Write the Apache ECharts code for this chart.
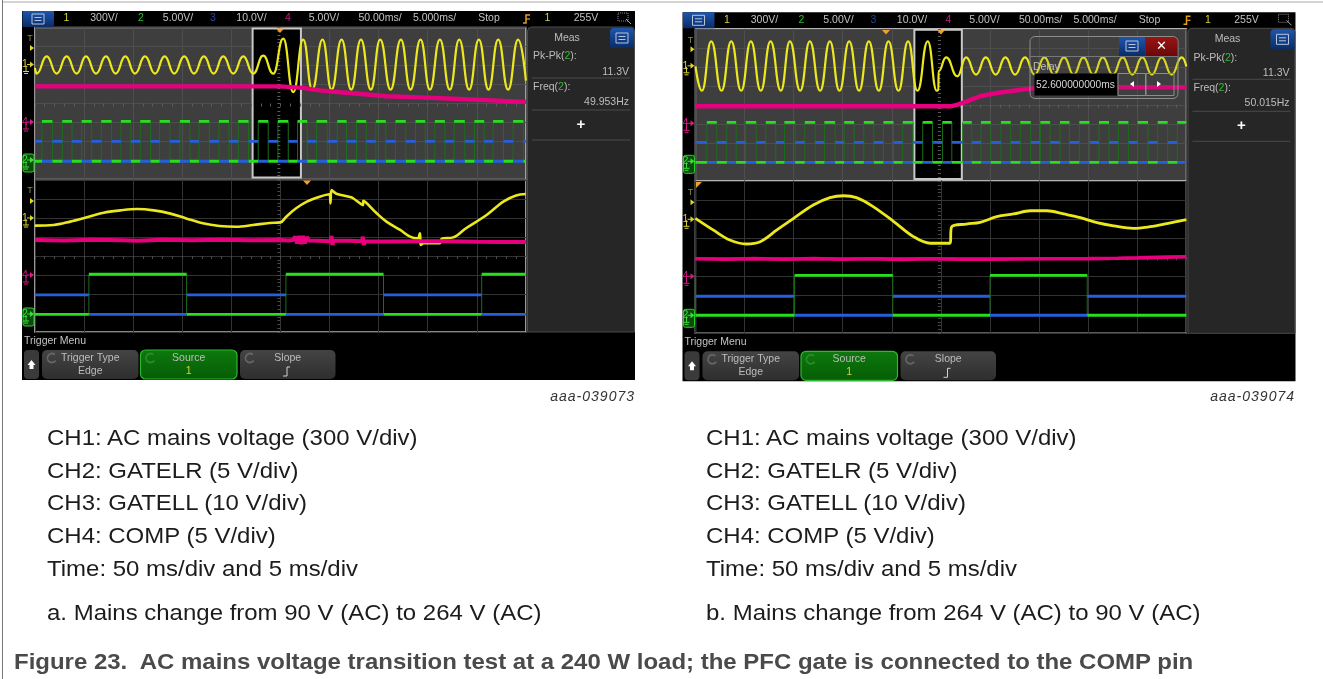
<!DOCTYPE html>
<html>
<head>
<meta charset="utf-8">
<title>Figure 23</title>
<script src="https://cdn.jsdelivr.net/npm/echarts@6/dist/echarts.min.js"></script>
<style>
  html, body { margin: 0; padding: 0; background: #fff; }
  #page { position: relative; width: 1323px; height: 679px; overflow: hidden; }
  #scope { position: absolute; left: 0; top: 0; width: 1323px; height: 679px; }
  /* the source is a soft screenshot */
  #scope canvas { filter: blur(0.45px); }
  .cap { position: absolute; white-space: pre; font-family: "Liberation Sans", Arial, sans-serif; font-size: 22px; line-height: 26px; color: #1c1c1c; transform-origin: left center; transform: scaleX(1.09); }
  .tag { position: absolute; white-space: pre; font-family: "Liberation Sans", Arial, sans-serif; font-style: italic; font-size: 14px; line-height: 16px; letter-spacing: 1px; color: #333; }
  .fig { position: absolute; white-space: pre; font-family: "Liberation Sans", Arial, sans-serif; font-weight: bold; font-size: 22px; line-height: 24px; color: #4a4a4a; transform-origin: left center; transform: scaleX(1.09); }
  #rule { position: absolute; left: 2px; top: 0; width: 1px; height: 679px; background: #777; }
  #topRule { position: absolute; left: 3px; top: 1px; width: 1320px; height: 2px; background: #d4d4d4; }
</style>
</head>
<body>
<div id="page">
  <div id="scope"></div>
  <div id="rule"></div>
  <div id="topRule"></div>
  <div class="tag" style="right:688px;top:388px">aaa-039073</div>
  <div class="tag" style="right:28px;top:388px">aaa-039074</div>
  <div class="cap" style="left:47px;top:425px">CH1: AC mains voltage (300 V/div)</div>
  <div class="cap" style="left:47px;top:458px">CH2: GATELR (5 V/div)</div>
  <div class="cap" style="left:47px;top:490px">CH3: GATELL (10 V/div)</div>
  <div class="cap" style="left:47px;top:523px">CH4: COMP (5 V/div)</div>
  <div class="cap" style="left:47px;top:556px">Time: 50 ms/div and 5 ms/div</div>
  <div class="cap" style="left:47px;top:600px">a. Mains change from 90 V (AC) to 264 V (AC)</div>
  <div class="cap" style="left:706px;top:425px">CH1: AC mains voltage (300 V/div)</div>
  <div class="cap" style="left:706px;top:458px">CH2: GATELR (5 V/div)</div>
  <div class="cap" style="left:706px;top:490px">CH3: GATELL (10 V/div)</div>
  <div class="cap" style="left:706px;top:523px">CH4: COMP (5 V/div)</div>
  <div class="cap" style="left:706px;top:556px">Time: 50 ms/div and 5 ms/div</div>
  <div class="cap" style="left:706px;top:600px">b. Mains change from 264 V (AC) to 90 V (AC)</div>
  <div class="fig" id="figCap" style="left:14px;top:650px">Figure 23.  AC mains voltage transition test at a 240 W load; the PFC gate is connected to the COMP pin</div>
</div>
<script>
// all traces: [time in ms from trigger, height in divisions from screen centre]
var aTopYellow = [[-250,1.87],[-248.2,1.57],[-238,2.48],[-227.8,1.57],[-217.7,2.48],[-207.5,1.57],[-198,2.48],[-187.8,1.57],[-177.6,2.48],[-167.8,1.57],[-157.9,2.48],[-148.1,1.57],[-137.9,2.48],[-127.7,1.57],[-117.9,2.48],[-108.1,1.57],[-97.9,2.48],[-88,1.57],[-77.9,2.48],[-68,1.57],[-58.2,2.48],[-48,1.57],[-37.8,2.48],[-27.7,1.57],[-17.5,2.52],[-7.3,1.57],[2.9,3.41],[13.1,0.6],[23.2,3.36],[32.4,0.73],[42.9,3.36],[52.1,0.73],[62.3,3.36],[72.1,0.73],[82,3.36],[92.1,0.73],[101.6,3.36],[112.2,0.73],[122.7,3.36],[132.5,0.73],[142.7,3.36],[152.2,0.73],[162.4,3.36],[172.5,0.73],[182.1,3.36],[192.2,0.73],[202.1,3.36],[211.9,0.73],[221.8,3.36],[231.9,0.73],[242.1,3.36],[250,1.2]];
var aTopPink = [[-250,0.9],[-100,0.9],[0,0.9],[23,0.82],[40,0.69],[60.5,0.59],[70.7,0.55],[108,0.38],[142,0.32],[176,0.25],[210,0.18],[250,0.08]];
var aTopEdges = [-242.8,-232.2,-222.1,-212.2,-202.4,-192.2,-182.4,-171.9,-162.4,-152.2,-142.7,-132.2,-123,-112.5,-102.3,-92.1,-83,-72.4,-62.6,-52.4,-42.9,-32.4,-22.6,-12.4,-2.5,8,17.5,27.3,36.8,47.7,57.9,67.4,77.5,87.4,97.2,107.4,117.2,127.7,137.6,147.5,157.3,167.5,176.9,187.8,197.6,207.5,216.6,227.2,237,247.5];
var aTopLevels = [-3.04, -1.99, -0.94];

var aBottomYellow = [[-25,1.6],[-23.1,1.63],[-21.4,1.81],[-19.7,2.04],[-18,2.28],[-16.3,2.4],[-14.6,2.47],[-12.9,2.4],[-11.2,2.23],[-9.6,1.98],[-7.9,1.72],[-6.2,1.58],[-4.5,1.54],[-2.8,1.63],[-1.1,1.74],[0,1.77],[0.6,2.07],[1.6,2.51],[2.7,2.86],[4,3.12],[5,3.25],[5.1,2.77],[5.2,3.47],[5.7,3.28],[7.1,3.1],[7.4,3.04],[8.4,2.68],[8.45,2.9],[9.8,2.25],[10.8,1.81],[12.2,1.37],[13.2,1.02],[14,0.93],[14.2,1.19],[14.25,0.92],[14.3,0.58],[14.6,0.67],[16.2,0.67],[16.4,0.89],[16.6,0.93],[17.6,0.98],[18.9,1.46],[21,2.16],[22.7,2.86],[24,3.18],[25,3.26]];
var aBottomPink = [[-25,0.84],[-22,0.82],[-19,0.86],[-16,0.83],[-14.5,0.8],[-12,0.85],[-9,0.83],[-6,0.85],[-3,0.83],[0,0.84],[0.8,0.82],[1.3,0.84],[1.5,1.02],[1.7,0.66],[1.9,1.05],[2.1,0.63],[2.3,1.05],[2.5,0.66],[2.7,1],[2.9,0.82],[4,0.8],[5.1,0.78],[5.2,1.06],[5.3,0.58],[5.4,0.8],[7,0.8],[8.3,0.78],[8.4,1.02],[8.5,0.58],[8.6,0.78],[11,0.76],[14,0.78],[17,0.77],[20,0.75],[22.5,0.74],[25,0.74]];
var aBottomEdges = [-19.5,-9.55,0.56,10.5,20.5];
var aBottomLevels = [-3.07, -2.05, -0.96];

var bTopYellow = [[-249.9,2.02],[-243.4,0.74],[-233.9,3.34],[-223.4,0.74],[-213.5,3.34],[-203.4,0.74],[-193.5,3.34],[-183.4,0.74],[-173.5,3.34],[-163,0.74],[-153.8,3.34],[-143.3,0.74],[-133.5,3.34],[-123,0.74],[-113.1,3.34],[-103.3,0.74],[-93.4,3.34],[-83.3,0.74],[-73.4,3.34],[-63.2,0.74],[-53.4,3.34],[-43.2,0.74],[-33.4,3.34],[-23.9,0.74],[-13.4,3.34],[-4.2,0.74],[-2.5,0.78],[-2.4,1.76],[5.3,2.5],[16.8,1.5],[25.6,2.5],[35.8,1.59],[45.7,2.5],[55.8,1.59],[65.7,2.5],[75.5,1.59],[85.7,2.5],[95.5,1.59],[105.4,2.5],[115.2,1.59],[125.4,2.5],[135.2,1.59],[145.1,2.5],[155.2,1.59],[164.8,2.5],[175,1.59],[185.1,2.5],[194.9,1.59],[205.1,2.5],[214.9,1.59],[224.8,2.5],[235,1.59],[245.2,2.5],[250,2.02]];
var bTopPink = [[-250,-0.08],[-100,-0.08],[9.4,-0.08],[16.2,0],[26.3,0.18],[39.9,0.45],[56.9,0.62],[73.8,0.74],[90.8,0.85],[107.8,0.9],[180.7,0.92],[250,0.92]];
var bTopEdges = [-238.3,-228.2,-218,-208.5,-198.7,-188.1,-178.3,-168.1,-159.3,-148.4,-138.6,-128,-118.6,-107.7,-98.5,-88.4,-78.5,-68.3,-58.5,-48.3,-38.8,-28.6,-18.5,-8.6,1.6,11.1,22.2,31.4,40.9,50.8,61.2,71.1,80.9,91.5,101.3,111.2,121.3,130.9,141,151.2,161,171.2,180.7,190.9,200.4,210.9,220.8,230.9,240.7];
var bTopLevels = [-3.03, -1.98, -0.92];

var bBottomYellow = [[-25,2.05],[-23.2,1.44],[-21.5,0.91],[-19.8,0.7],[-18.4,0.82],[-16.7,1.44],[-15,2.05],[-13,2.75],[-11.3,3.14],[-9.9,3.24],[-8.6,3.14],[-6.9,2.67],[-4.8,1.88],[-2.8,1.09],[-1.1,0.74],[0.9,0.74],[1.1,1.61],[2.6,1.75],[4,1.84],[5.7,2.14],[7.4,2.28],[9.1,2.45],[10.8,2.45],[12.5,2.28],[14.2,2.09],[15.9,1.82],[17.6,1.65],[19.6,1.52],[21.3,1.61],[23,1.77],[25,1.98]];
var bBottomPink = [[-25,-0.08],[-22,-0.1],[-19,-0.07],[-16,-0.1],[-13,-0.07],[-10,-0.1],[-7,-0.08],[-4,-0.11],[-1,-0.08],[2,-0.1],[5,-0.1],[8,-0.09],[11,-0.08],[15,-0.07],[18,-0.05],[20,-0.03],[23,0.01],[25,0.03]];
var bBottomEdges = [-25,-25,-14.9,-4.9,5,14.9];
var bBottomLevels = [-3.05, -2.05, -0.95];

var panels = [
  { left: 34.9,  top: 27.5,  span: 250, bg: '#3e3e3e', grid: '#4e4e4e', cross: '#5c5c5c', yellow: aTopYellow, pink: aTopPink, edges: aTopEdges, levels: aTopLevels, win: [-28.3, 20.9], w: 2.2, pw: 4.4 },
  { left: 34.9,  top: 180,   span: 25,  bg: '#000',    grid: '#333',    cross: '#4a4a4a', yellow: aBottomYellow, pink: aBottomPink, edges: aBottomEdges, levels: aBottomLevels, w: 2.6, pw: 4 },
  { left: 695.4, top: 28.8,  span: 250, bg: '#3e3e3e', grid: '#4e4e4e', cross: '#5c5c5c', yellow: bTopYellow, pink: bTopPink, edges: bTopEdges, levels: bTopLevels, win: [-27, 21.3], w: 2.2, pw: 4.4 },
  { left: 695.4, top: 181.3, span: 25,  bg: '#000',    grid: '#333',    cross: '#4a4a4a', yellow: bBottomYellow, pink: bBottomPink, edges: bBottomEdges, levels: bBottomLevels, w: 2.8, pw: 3.6 }
];

var YELLOW = '#ece81e', PINK = '#e6007e', GREEN = '#26e01e', DARKGREEN = '#187018', BLUE = '#2560d8';
var FONT = '"Liberation Sans", Arial, sans-serif';

// split the channel into flat runs so it is only drawn while it sits on that level
function plateaus (edges, span, evenLevel, oddLevel) {
  var out = []
  var from = -span
  for (var i = 0; i <= edges.length; i++) {
    var to = i < edges.length ? edges[i] : span
    out.push([from, i % 2 === 0 ? evenLevel : oddLevel], [to, i % 2 === 0 ? evenLevel : oddLevel], [to, null])
    from = to
  }
  return out
}
function risers (edges, low, high) {
  var out = []
  edges.forEach(function (e) { out.push([e, low], [e, high], [e, null]) })
  return out
}

var grids = [], xAxes = [], yAxes = [], series = []
panels.forEach(function (p, i) {
  grids.push({ show: true, left: p.left, top: p.top, width: 491, height: 152, backgroundColor: p.bg, borderColor: '#b4b4b4', borderWidth: 1.5, z: 1 })
  var hidden = { axisLine: { show: false }, axisTick: { show: false }, axisLabel: { show: false } }
  xAxes.push(Object.assign({ type: 'value', gridIndex: i, min: -p.span, max: p.span, interval: p.span / 5, splitLine: { lineStyle: { color: p.grid, width: 1 } }, z: 1 }, hidden))
  yAxes.push(Object.assign({ type: 'value', gridIndex: i, min: -4, max: 4, interval: 1, splitLine: { lineStyle: { color: p.grid, width: 1 } }, z: 1 }, hidden))
  // the centre cross with its small ticks sits above the zoom window
  var cross = { lineStyle: { color: p.cross, width: 1 } }
  xAxes.push({ type: 'value', gridIndex: i, min: -p.span, max: p.span, interval: p.span / 5, z: 5, axisLabel: { show: false }, splitLine: { show: false }, axisLine: { show: true, onZero: true, lineStyle: { color: 'rgba(0,0,0,0)' } }, axisTick: { show: true, inside: true, length: 3, lineStyle: cross.lineStyle }, minorTick: { show: true, splitNumber: 5, length: 3, lineStyle: cross.lineStyle } })
  yAxes.push({ type: 'value', gridIndex: i, min: -4, max: 4, interval: 1, z: 5, axisLabel: { show: false }, splitLine: { show: false }, axisLine: { show: true, onZero: true, lineStyle: { color: 'rgba(0,0,0,0)' } }, axisTick: { show: true, inside: true, length: 3, lineStyle: cross.lineStyle }, minorTick: { show: true, splitNumber: 5, length: 3, lineStyle: cross.lineStyle } })

  var axis = { xAxisIndex: i * 2, yAxisIndex: i * 2, type: 'line', showSymbol: false, silent: true, z: 6 }
  var low = p.levels[0], mid = p.levels[1], high = p.levels[2]
  var yellow = Object.assign({ name: 'CH1', data: p.yellow, lineStyle: { color: YELLOW, width: p.w } }, axis)
  if (p.win) {
    yellow.smooth = 0.5
    yellow.smoothMonotone = 'x'
    yellow.markArea = { silent: true, z: 4, itemStyle: { color: '#000', borderColor: '#c8c8c8', borderWidth: 2 }, data: [[{ xAxis: p.win[0], yAxis: -3.9 }, { xAxis: p.win[1], yAxis: 3.95 }]] }
  } else {
    yellow.smooth = 0.35
  }
  series.push(
    Object.assign({ name: 'CH2 edges', data: risers(p.edges, low, high), lineStyle: { color: DARKGREEN, width: 1 } }, axis),
    Object.assign({ name: 'CH3', data: plateaus(p.edges, p.span, mid, low), lineStyle: { color: BLUE, width: 2.8, cap: 'butt' } }, axis),
    Object.assign({ name: 'CH2', data: plateaus(p.edges, p.span, low, high), lineStyle: { color: GREEN, width: 2.8, cap: 'butt' } }, axis),
    yellow,
    Object.assign({ name: 'CH4', data: p.pink, lineStyle: { color: PINK, width: p.pw } }, axis)
  )
})

// ---- scope screen furniture, drawn as graphic elements ----
function box (x, y, w, h, fill, extra) {
  return Object.assign({ type: 'rect', shape: { x: x, y: y, width: w, height: h, r: (extra && extra.r) || 0 }, style: Object.assign({ fill: fill }, (extra && extra.style) || {}), z: (extra && extra.z) || 10, silent: true })
}
function label (text, x, y, color, size, align, z, weight) {
  return { type: 'text', x: x, y: y, z: z || 10, silent: true, style: { text: text, fill: color, font: (weight || 'normal') + ' ' + (size || 10.5) + 'px ' + FONT, align: align || 'center', verticalAlign: 'middle' } }
}
function poly (pts, fill, z) {
  return { type: 'polygon', shape: { points: pts }, style: { fill: fill }, z: z || 10, silent: true }
}
function path (pts, stroke, width, z) {
  return { type: 'polyline', shape: { points: pts }, style: { stroke: stroke, lineWidth: width || 1, fill: null }, z: z || 10, silent: true }
}
function vgrad (c1, c2) {
  return new echarts.graphic.LinearGradient(0, 0, 0, 1, [{ offset: 0, color: c1 }, { offset: 1, color: c2 }])
}
function menuIcon (x, y, z) {
  return [
    { type: 'rect', shape: { x: x, y: y, width: 12, height: 10 }, style: { fill: null, stroke: '#b8c4d8', lineWidth: 1 }, z: z, silent: true },
    path([[x + 2.5, y + 3.5], [x + 9.5, y + 3.5]], '#b8c4d8', 1, z),
    path([[x + 2.5, y + 6.5], [x + 9.5, y + 6.5]], '#b8c4d8', 1, z)
  ]
}
function chMark (x, y, num, color) {
  return [
    label(num, x + 3, y, color, 10.5, 'center', 12),
    path([[x + 5, y], [x + 9, y]], color, 1, 12),
    poly([[x + 8, y - 3], [x + 12, y], [x + 8, y + 3]], color, 12),
    path([[x + 4, y + 1], [x + 4, y + 7]], color, 1, 12),
    path([[x + 1, y + 7], [x + 7, y + 7]], color, 1, 12),
    path([[x + 2, y + 9], [x + 6, y + 9]], color, 1, 12)
  ]
}
function groundBox (dx, dy, y, h) {
  return [
    { type: 'rect', shape: { x: 23 + dx, y: y + dy, width: 11, height: h, r: 2 }, style: { fill: '#0a4a0a', stroke: '#2ad02a', lineWidth: 1 }, z: 12, silent: true }
  ].concat(chMark(22 + dx, y + dy + 6, '2', '#3ae03a'))
}
function softKey (x, y, w, title, sub, fill, stroke, subColor) {
  return [
    { type: 'rect', shape: { x: x, y: y, width: w, height: 29, r: 5 }, style: { fill: fill, stroke: stroke, lineWidth: stroke ? 1.2 : 0 }, z: 10, silent: true },
    { type: 'arc', shape: { cx: x + 10, cy: y + 8, r: 4.5, startAngle: 0.6, endAngle: 5.4 }, style: { stroke: stroke ? '#2c8c2c' : '#666', lineWidth: 1.8, fill: null }, z: 11, silent: true },
    label(title, x + w / 2, y + 8, '#bdbdbd', 10.5, 'center', 11),
    label(sub, x + w / 2, y + 21, subColor || '#bdbdbd', 10.5, 'center', 11)
  ]
}
function screen (dx, dy, freq) {
  var e = []
  var grey = '#c2c2c2'
  e.push(box(22 + dx, 11 + dy, 613, 369, '#000', { z: -5 }))
  e.push(box(22.5 + dx, 11 + dy, 31.5, 16, vgrad('#1d56ae', '#0b2c66')))
  e = e.concat(menuIcon(32 + dx, 14 + dy, 11))
  var bar = [['1', 66.5, '#d8d23a'], ['300V/', 104, grey], ['2', 141, '#2fc02f'], ['5.00V/', 178, grey], ['3', 213, '#27439c'], ['10.0V/', 251.5, grey], ['4', 288, '#c01c78'], ['5.00V/', 324, grey], ['50.00ms/', 380, grey], ['5.000ms/', 434.5, grey], ['Stop', 489, grey], ['1', 547.5, '#d8d23a'], ['255V', 586, grey]]
  bar.forEach(function (b) { e.push(label(b[0], b[1] + dx, 18.5 + dy, b[2], 10.5, 'center', 11)) })
  e.push(path([[530 + dx, 15 + dy], [526 + dx, 15 + dy], [526 + dx, 23 + dy], [523 + dx, 23 + dy]], '#e0a020', 1.5, 11))
  e.push(path([[526 + dx, 19 + dy], [530 + dx, 19 + dy]], '#e0a020', 1.2, 11))
  e.push({ type: 'rect', shape: { x: 618 + dx, y: 13 + dy, width: 10, height: 8 }, style: { fill: null, stroke: '#8a8a8a', lineWidth: 1, lineDash: [1, 1] }, z: 11, silent: true })
  e.push(path([[626 + dx, 19 + dy], [631 + dx, 24 + dy]], '#aaa', 1, 11))

  // measurement panel
  e.push({ type: 'rect', shape: { x: 527.5 + dx, y: 27 + dy, width: 107, height: 305, r: [4, 4, 0, 0] }, style: { fill: '#262626', stroke: '#4a4a4a', lineWidth: 1 }, z: 10, silent: true })
  e.push({ type: 'rect', shape: { x: 610 + dx, y: 28 + dy, width: 24, height: 20, r: [4, 4, 0, 0] }, style: { fill: vgrad('#1d56ae', '#0b2c66') }, z: 11, silent: true })
  e = e.concat(menuIcon(616 + dx, 33 + dy, 12))
  e.push(label('Meas', 567 + dx, 38 + dy, '#bdbdbd', 10.5, 'center', 11))
  e.push({ type: 'text', x: 533 + dx, y: 56.5 + dy, z: 11, silent: true, style: { text: 'Pk-Pk({g|2}):', fill: '#bdbdbd', font: '10.5px ' + FONT, align: 'left', verticalAlign: 'middle', rich: { g: { fill: '#2fc02f', font: '10.5px ' + FONT } } } })
  e.push(label('11.3V', 629 + dx, 72 + dy, '#bdbdbd', 10.5, 'right', 11))
  e.push(path([[532 + dx, 78 + dy], [630 + dx, 78 + dy]], '#4a4a4a', 1, 11))
  e.push({ type: 'text', x: 533 + dx, y: 87 + dy, z: 11, silent: true, style: { text: 'Freq({g|2}):', fill: '#bdbdbd', font: '10.5px ' + FONT, align: 'left', verticalAlign: 'middle', rich: { g: { fill: '#2fc02f', font: '10.5px ' + FONT } } } })
  e.push(label(freq, 629 + dx, 102 + dy, '#bdbdbd', 10.5, 'right', 11))
  e.push(path([[532 + dx, 110 + dy], [630 + dx, 110 + dy]], '#4a4a4a', 1, 11))
  e.push(label('+', 581 + dx, 124.5 + dy, '#fff', 15, 'center', 11, 'bold'))
  e.push(path([[532 + dx, 140 + dy], [630 + dx, 140 + dy]], '#4a4a4a', 1, 11))

  // channel markers beside the traces
  e.push(label('T', 30 + dx, 39 + dy, '#8a8a50', 9, 'center', 12))
  e.push(poly([[30 + dx, 45 + dy], [34 + dx, 48 + dy], [30 + dx, 51 + dy]], '#e6d820', 12))
  e = e.concat(chMark(22 + dx, 64.5 + dy, '1', '#d8d23a'))
  e = e.concat(chMark(22 + dx, 122 + dy, '4', '#d81a8a'))
  e = e.concat(groundBox(dx, dy, 154, 18))
  e.push(label('T', 30 + dx, 191 + dy, '#8a8a50', 9, 'center', 12))
  e.push(poly([[30 + dx, 198 + dy], [34 + dx, 201 + dy], [30 + dx, 204 + dy]], '#e6d820', 12))
  e = e.concat(chMark(22 + dx, 218 + dy, '1', '#d8d23a'))
  e = e.concat(chMark(22 + dx, 275 + dy, '4', '#d81a8a'))
  e = e.concat(groundBox(dx, dy, 308, 18))

  // soft key row
  e.push(label('Trigger Menu', 24 + dx, 341 + dy, '#c4c4c4', 10.5, 'left', 11))
  e.push({ type: 'rect', shape: { x: 24 + dx, y: 350 + dy, width: 15, height: 29, r: 4 }, style: { fill: '#3a3a3a' }, z: 10, silent: true })
  e.push(poly([[31.5 + dx, 360 + dy], [35.5 + dx, 365 + dy], [33.5 + dx, 365 + dy], [33.5 + dx, 369 + dy], [29.5 + dx, 369 + dy], [29.5 + dx, 365 + dy], [27.5 + dx, 365 + dy]], '#fff', 11))
  e = e.concat(softKey(42 + dx, 350 + dy, 96.5, 'Trigger Type', 'Edge', vgrad('#444', '#2e2e2e')))
  e = e.concat(softKey(140.5 + dx, 350 + dy, 96.5, 'Source', '1', vgrad('#0d7a0d', '#065c06'), '#2fb82f', '#d8d23a'))
  e = e.concat(softKey(240 + dx, 350 + dy, 95.5, 'Slope', '', vgrad('#444', '#2e2e2e')))
  e.push(path([[283 + dx, 376 + dy], [287 + dx, 376 + dy], [287 + dx, 367 + dy], [290 + dx, 367 + dy]], '#d0d0d0', 1, 12))
  return e
}
function orange (x, y, z) {
  return poly([[x - 4, y], [x + 4, y], [x, y + 4.5]], '#f0a030', z || 12)
}

var screenItems = screen(0, 0, '49.953Hz').concat(screen(660.5, 1.3, '50.015Hz'))
screenItems.push(orange(280, 28.5), orange(307, 180.5))
screenItems.push(orange(886, 30), orange(941, 30))
screenItems.push(poly([[696, 182], [702, 182], [696, 188]], '#f0a030', 12))

// delay dialog floating over the right hand scope, above the traces
var dlg = [
  { type: 'rect', shape: { x: 1030, y: 36.5, width: 148, height: 62, r: 5 }, style: { fill: 'rgba(70,70,70,0.12)', stroke: '#8c8c8c', lineWidth: 1 }, z: 20, silent: true },
  path([[1030, 56.5], [1178, 56.5]], '#777', 1, 21),
  { type: 'rect', shape: { x: 1119, y: 37, width: 26, height: 19 }, style: { fill: vgrad('#1d56ae', '#0b2c66') }, z: 21, silent: true },
  { type: 'rect', shape: { x: 1145.5, y: 37, width: 32, height: 19, r: [0, 5, 0, 0] }, style: { fill: vgrad('#9a1414', '#6a0808') }, z: 21, silent: true },
  label('\u2715', 1161.5, 46.5, '#fff', 13, 'center', 22),
  label('Delay', 1033, 67.5, '#bbb', 10.5, 'left', 22),
  { type: 'rect', shape: { x: 1034.5, y: 73.5, width: 83, height: 22 }, style: { fill: '#000' }, z: 21, silent: true },
  label('52.600000000ms', 1036, 85, '#d8d8d8', 10.2, 'left', 22),
  { type: 'rect', shape: { x: 1118, y: 73.5, width: 27.5, height: 22 }, style: { fill: null, stroke: '#8c8c8c', lineWidth: 1 }, z: 21, silent: true },
  { type: 'rect', shape: { x: 1146, y: 73.5, width: 28, height: 22 }, style: { fill: null, stroke: '#8c8c8c', lineWidth: 1 }, z: 21, silent: true },
  poly([[1134, 81], [1134, 87], [1130, 84]], '#fff', 22),
  poly([[1157, 81], [1157, 87], [1161, 84]], '#fff', 22)
].concat(menuIcon(1126, 41, 22))

var option = {
  animation: false,
  backgroundColor: '#fff',
  tooltip: { show: false },
  grid: grids,
  xAxis: xAxes,
  yAxis: yAxes,
  series: series,
  graphic: { elements: screenItems.concat(dlg) }
}

var chart = echarts.init(document.getElementById('scope'), null, { renderer: 'canvas' })
chart.setOption(option)
</script>
</body>
</html>
